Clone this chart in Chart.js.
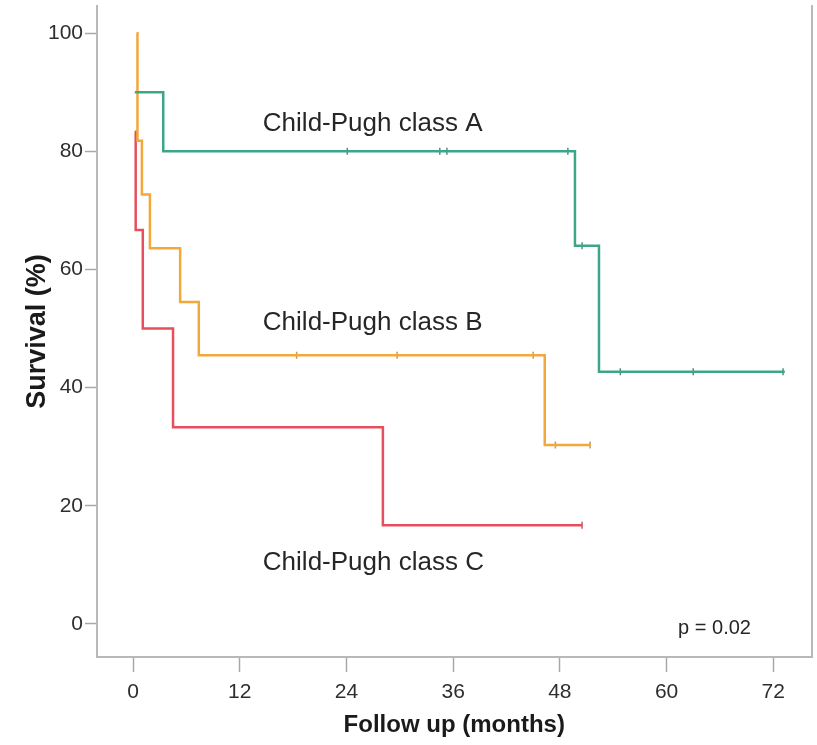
<!DOCTYPE html>
<html>
<head>
<meta charset="utf-8">
<script src="https://cdn.jsdelivr.net/npm/chart.js@4.4.0/dist/chart.umd.min.js"></script>
<style>
  html, body { margin: 0; padding: 0; background: #fff; }
  #wrap { width: 817px; height: 745px; }
</style>
</head>
<body>
<div id="wrap"><canvas id="kmChart" width="817" height="745"></canvas></div>
<script>
// Kaplan-Meier steps: month of each step and survival (%) after it
const timesA = [0.2, 3.4, 49.7, 52.4, 73.3];
const survA  = [90, 80, 64, 42.7, 42.7];
const timesB = [0.4, 0.5, 1.0, 1.9, 5.3, 7.4, 46.3, 51.4];
const survB  = [100, 81.8, 72.7, 63.6, 54.5, 45.5, 30.3, 30.3];
const timesC = [0.2, 0.3, 1.1, 4.5, 28.1, 50.5];
const survC  = [83.3, 66.7, 50, 33.3, 16.7, 16.7];

// censored observations (month, survival %)
const censorTimesA = [24.1, 34.5, 35.3, 48.9, 50.5, 54.8, 63.0, 73.1];
const censorSurvA  = [80, 80, 80, 80, 64, 42.7, 42.7, 42.7];
const censorTimesB = [18.4, 29.7, 45.0, 47.5, 51.4];
const censorSurvB  = [45.5, 45.5, 45.5, 30.3, 30.3];
const censorTimesC = [50.5];
const censorSurvC  = [16.7];

const xTickValues = [0, 12, 24, 36, 48, 60, 72];
const yTickValues = [0, 20, 40, 60, 80, 100];

const groupLabels = ["Child-Pugh class A", "Child-Pugh class B", "Child-Pugh class C"];
const pText = "p = 0.02";

const colA = "#3ea688";
const colB = "#f2a83a";
const colC = "#e64f5c";
const FONT = "'Liberation Sans', Arial, sans-serif";

function pts(xs, ys) {
  return xs.map((x, i) => ({ x: x, y: ys[i] }));
}

function stepSet(label, xs, ys, color) {
  return {
    label: label,
    data: pts(xs, ys),
    borderColor: color,
    borderWidth: 2.5,
    stepped: true,
    pointRadius: 0,
    fill: false
  };
}

function censorSet(xs, ys, color) {
  return {
    type: "scatter",
    data: pts(xs, ys),
    showLine: false,
    pointStyle: "line",
    rotation: 90,
    radius: 3.5,
    borderColor: color,
    borderWidth: 1.5,
    backgroundColor: color
  };
}

// where the text labels go, in data units
const labelSpots = [
  { x: 14.6, y: 84.6 },
  { x: 14.6, y: 50.9 },
  { x: 14.6, y: 10.3 }
];
const pSpot = { x: 61.3, y: -0.7 };

const textPlugin = {
  id: "kmText",
  afterDatasetsDraw(chart) {
    const ctx = chart.ctx;
    const xs = chart.scales.x, ys = chart.scales.y;
    ctx.save();
    ctx.fillStyle = "#262626";
    ctx.textBaseline = "middle";
    ctx.textAlign = "left";
    ctx.font = "26px " + FONT;
    groupLabels.forEach((t, i) => {
      ctx.fillText(t, xs.getPixelForValue(labelSpots[i].x), ys.getPixelForValue(labelSpots[i].y));
    });
    ctx.font = "20px " + FONT;
    ctx.fillText(pText, xs.getPixelForValue(pSpot.x), ys.getPixelForValue(pSpot.y));
    ctx.restore();
  }
};

new Chart(document.getElementById("kmChart").getContext("2d"), {
  type: "line",
  data: {
    datasets: [
      stepSet("A", timesA, survA, colA),
      stepSet("B", timesB, survB, colB),
      stepSet("C", timesC, survC, colC),
      censorSet(censorTimesA, censorSurvA, "#4f8f7c"),
      censorSet(censorTimesB, censorSurvB, "#c99a52"),
      censorSet(censorTimesC, censorSurvC, "#c75a63")
    ]
  },
  options: {
    responsive: false,
    animation: false,
    layout: { padding: { top: 6, right: 5, left: 0, bottom: 0 } },
    plugins: {
      legend: { display: false },
      tooltip: { enabled: false }
    },
    scales: {
      x: {
        type: "linear",
        min: -4.05,
        max: 76.3,
        afterBuildTicks: s => { s.ticks = xTickValues.map(v => ({ value: v })); },
        afterFit: s => { s.height = 88; s.paddingLeft = 0; s.paddingRight = 0; },
        grid: { drawOnChartArea: false, drawTicks: true, tickLength: 15, tickColor: "#a8a8a8", tickWidth: 1.5 },
        border: { color: "#b8b8b8", width: 2 },
        ticks: { color: "#2e2e2e", font: { family: FONT, size: 21 }, padding: 8, maxRotation: 0 },
        title: {
          display: true,
          text: "Follow up (months)",
          color: "#1a1a1a",
          font: { family: FONT, size: 24, weight: "bold" },
          padding: { top: 0, bottom: 5 }
        }
      },
      y: {
        type: "linear",
        min: -5.6,
        max: 104.6,
        afterBuildTicks: s => { s.ticks = yTickValues.map(v => ({ value: v })); },
        afterFit: s => { s.width = 97; s.paddingTop = 0; s.paddingBottom = 0; },
        grid: { drawOnChartArea: false, drawTicks: true, tickLength: 12, tickColor: "#a8a8a8", tickWidth: 1.5 },
        border: { color: "#b8b8b8", width: 2 },
        ticks: { color: "#2e2e2e", font: { family: FONT, size: 21 }, padding: 2 },
        title: {
          display: true,
          text: "Survival (%)",
          color: "#1a1a1a",
          font: { family: FONT, size: 27, weight: "bold" },
          padding: { top: 21, bottom: 0 }
        }
      },
      yRight: {
        type: "linear",
        position: "right",
        min: -5.6,
        max: 104.6,
        afterFit: s => { s.width = 0; s.paddingTop = 0; s.paddingBottom = 0; },
        grid: { drawOnChartArea: false, drawTicks: false },
        border: { color: "#b8b8b8", width: 2 },
        ticks: { display: false }
      }
    }
  },
  plugins: [textPlugin]
});
</script>
</body>
</html>
